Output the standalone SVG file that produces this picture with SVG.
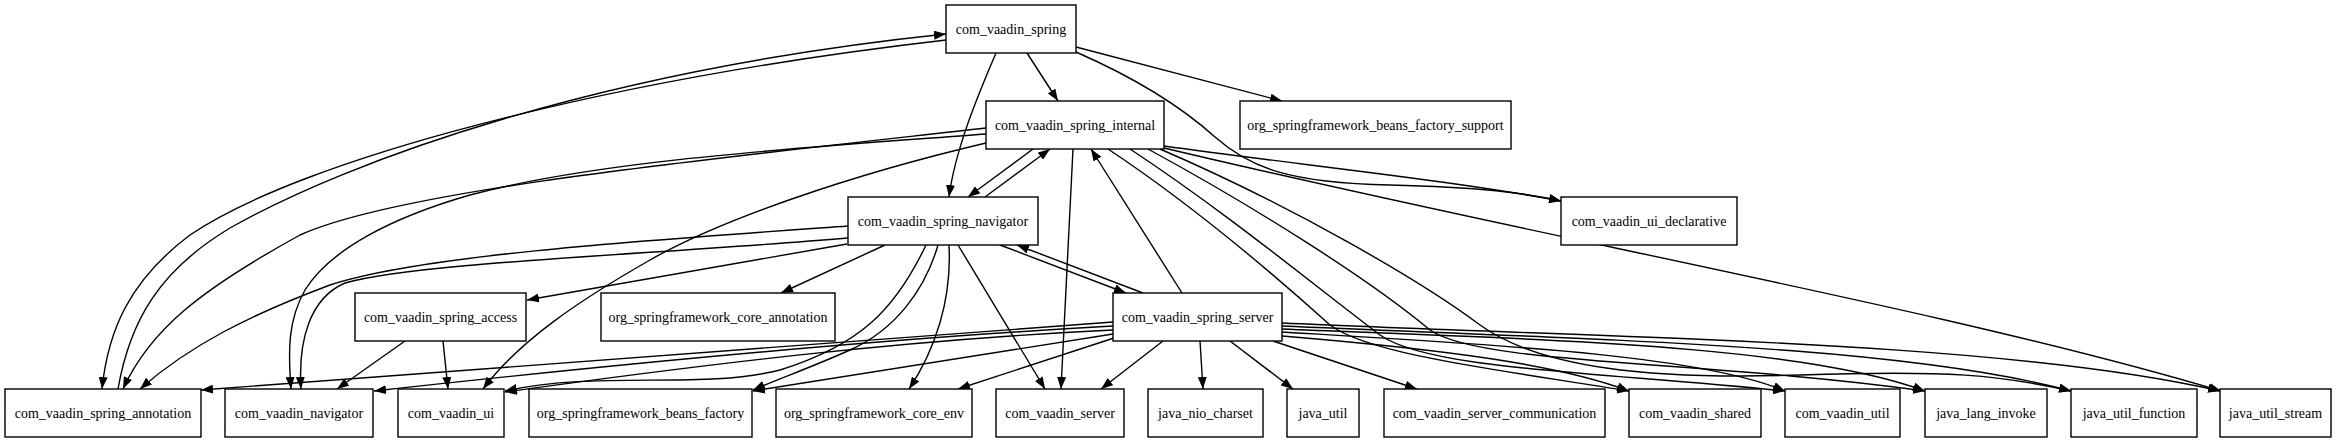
<svg xmlns="http://www.w3.org/2000/svg" width="2335" height="443" viewBox="0 0 2335 443">
<defs>
<style>
.n rect{fill:#fff;stroke:#000;stroke-width:1.4}
.n text{font-family:"Liberation Serif","Times New Roman",serif;font-size:14px;fill:#000;text-anchor:middle}
#edges path{fill:none;stroke:#000;stroke-width:1.4;marker-end:url(#ah)}
</style>
<marker id="ah" viewBox="0 0 12 9" refX="12" refY="4.5" markerWidth="12" markerHeight="9" markerUnits="userSpaceOnUse" orient="auto"><path d="M0,0 L12,4.5 L0,9 z" fill="#000"/></marker>
</defs>
<rect width="2335" height="443" fill="#fff"/>
<g id="edges">
<path d="M1027,53 L1058,101"/>
<path d="M996,53 C978,95 955,150 949,197"/>
<path d="M1076,47 L1282,101"/>
<path d="M1076,52 C1140,80 1185,110 1215,137 C1250,168 1290,183 1390,185 C1480,187 1525,193 1561,201"/>
<path d="M946,40 C600,80 300,160 190,235 C130,280 108,330 102,389"/>
<path d="M118,389 C130,320 160,270 230,228 C350,160 600,70 946,34"/>
<path d="M1033,149 L968,197"/>
<path d="M985,197 L1050,149"/>
<path d="M986,128 C700,160 400,190 300,235 C200,290 150,330 123,389"/>
<path d="M986,134 C800,148 600,160 470,195 C390,218 330,250 305,290 C288,320 288,350 291,389"/>
<path d="M986,143 C850,175 720,220 650,260 C580,300 520,340 483,389"/>
<path d="M1073,149 L1061,389"/>
<path d="M1164,146 C1300,165 1450,180 1561,201"/>
<path d="M1164,148 C1550,240 1950,310 2221,391"/>
<path d="M1108,149 C1200,210 1280,280 1330,325 C1370,355 1500,370 1629,391"/>
<path d="M1130,149 C1230,215 1320,290 1380,335 C1430,370 1600,372 1785,391"/>
<path d="M1148,149 C1260,210 1370,280 1430,330 C1480,365 1700,360 1925,391"/>
<path d="M1160,149 C1290,205 1420,280 1480,325 C1540,368 1650,380 1800,375 C1950,370 2000,375 2071,391"/>
<path d="M848,226 C650,240 420,255 330,285 C250,315 190,345 140,389"/>
<path d="M848,238 C650,255 420,262 345,283 C310,298 298,340 301,389"/>
<path d="M847,244 L527,300"/>
<path d="M885,245 L781,293"/>
<path d="M926,245 C895,310 860,345 780,370 C700,390 600,370 505,391"/>
<path d="M938,245 C925,290 895,330 850,350 C810,368 780,378 753,390"/>
<path d="M949,245 C952,300 935,350 909,389"/>
<path d="M958,245 L1045,389"/>
<path d="M1000,245 L1126,293"/>
<path d="M1143,293 L1017,245"/>
<path d="M1182,293 L1091,149"/>
<path d="M405,341 L337,389"/>
<path d="M443,341 L448,389"/>
<path d="M1113,322 L201,390"/>
<path d="M1113,326 C950,335 700,355 374,391"/>
<path d="M1113,330 C900,340 700,365 505,392"/>
<path d="M1113,334 L753,391"/>
<path d="M1114,338 L958,389"/>
<path d="M1163,341 L1101,389"/>
<path d="M1200,341 L1203,389"/>
<path d="M1230,341 L1293,389"/>
<path d="M1273,341 L1417,389"/>
<path d="M1282,336 C1450,350 1560,365 1629,391"/>
<path d="M1282,332 C1500,345 1700,355 1785,391"/>
<path d="M1282,329 C1550,340 1800,345 1925,391"/>
<path d="M1282,326 C1600,340 1900,345 2071,391"/>
<path d="M1282,323 C1600,338 2000,340 2220,391"/>
</g>
<g id="com_vaadin_spring" class="n"><rect x="946" y="5" width="130" height="48"/><text x="1011" y="34">com_vaadin_spring</text></g>
<g id="com_vaadin_spring_internal" class="n"><rect x="986" y="101" width="178" height="48"/><text x="1075" y="130">com_vaadin_spring_internal</text></g>
<g id="org_springframework_beans_factory_support" class="n"><rect x="1240" y="101" width="271" height="48"/><text x="1375.5" y="130">org_springframework_beans_factory_support</text></g>
<g id="com_vaadin_spring_navigator" class="n"><rect x="848" y="197" width="190" height="48"/><text x="943" y="226">com_vaadin_spring_navigator</text></g>
<g id="com_vaadin_ui_declarative" class="n"><rect x="1561" y="197" width="176" height="48"/><text x="1649" y="226">com_vaadin_ui_declarative</text></g>
<g id="com_vaadin_spring_access" class="n"><rect x="355" y="293" width="171" height="48"/><text x="440.5" y="322">com_vaadin_spring_access</text></g>
<g id="org_springframework_core_annotation" class="n"><rect x="601" y="293" width="234" height="48"/><text x="718" y="322">org_springframework_core_annotation</text></g>
<g id="com_vaadin_spring_server" class="n"><rect x="1113" y="293" width="169" height="48"/><text x="1197.5" y="322">com_vaadin_spring_server</text></g>
<g id="com_vaadin_spring_annotation" class="n"><rect x="5" y="389" width="196" height="48"/><text x="103" y="418">com_vaadin_spring_annotation</text></g>
<g id="com_vaadin_navigator" class="n"><rect x="225" y="389" width="148" height="48"/><text x="299" y="418">com_vaadin_navigator</text></g>
<g id="com_vaadin_ui" class="n"><rect x="398" y="389" width="106" height="48"/><text x="451" y="418">com_vaadin_ui</text></g>
<g id="org_springframework_beans_factory" class="n"><rect x="529" y="389" width="223" height="48"/><text x="640.5" y="418">org_springframework_beans_factory</text></g>
<g id="org_springframework_core_env" class="n"><rect x="776" y="389" width="196" height="48"/><text x="874" y="418">org_springframework_core_env</text></g>
<g id="com_vaadin_server" class="n"><rect x="996" y="389" width="128" height="48"/><text x="1060" y="418">com_vaadin_server</text></g>
<g id="java_nio_charset" class="n"><rect x="1148" y="389" width="115" height="48"/><text x="1205.5" y="418">java_nio_charset</text></g>
<g id="java_util" class="n"><rect x="1287" y="389" width="72" height="48"/><text x="1323" y="418">java_util</text></g>
<g id="com_vaadin_server_communication" class="n"><rect x="1384" y="389" width="221" height="48"/><text x="1494.5" y="418">com_vaadin_server_communication</text></g>
<g id="com_vaadin_shared" class="n"><rect x="1629" y="389" width="132" height="48"/><text x="1695" y="418">com_vaadin_shared</text></g>
<g id="com_vaadin_util" class="n"><rect x="1785" y="389" width="115" height="48"/><text x="1842.5" y="418">com_vaadin_util</text></g>
<g id="java_lang_invoke" class="n"><rect x="1925" y="389" width="122" height="48"/><text x="1986" y="418">java_lang_invoke</text></g>
<g id="java_util_function" class="n"><rect x="2071" y="389" width="126" height="48"/><text x="2134" y="418">java_util_function</text></g>
<g id="java_util_stream" class="n"><rect x="2220" y="389" width="111" height="48"/><text x="2275.5" y="418">java_util_stream</text></g>
</svg>
